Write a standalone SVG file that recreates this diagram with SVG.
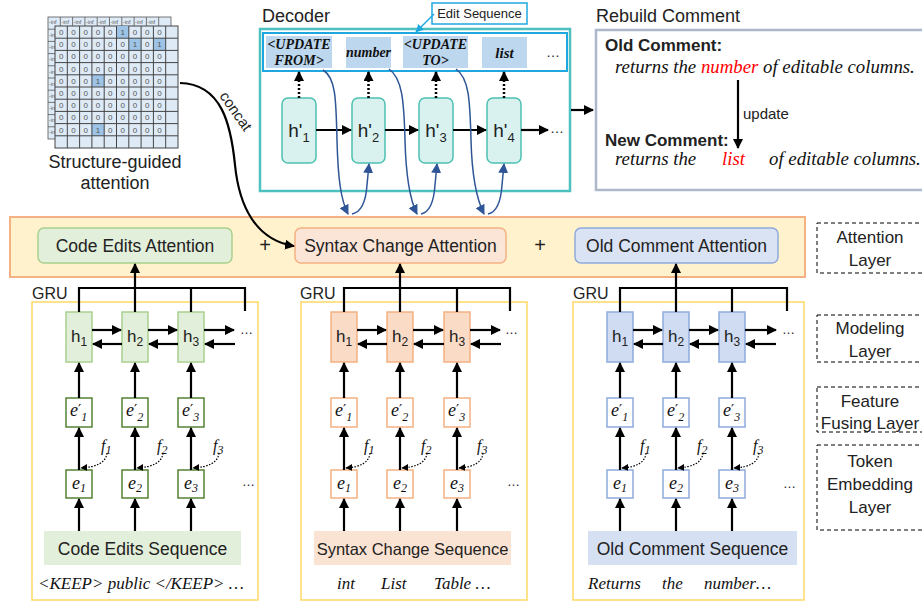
<svg xmlns="http://www.w3.org/2000/svg" width="922" height="607" viewBox="0 0 922 607">
<style>
.s{font-family:"Liberation Sans",Arial,sans-serif;fill:#222}
.t{font-family:"Liberation Serif","Times New Roman",serif;font-style:italic;fill:#111}
.pr{font-family:"DejaVu Sans",sans-serif;font-style:normal;font-size:14px}
.mx{font-family:"Liberation Sans",Arial,sans-serif;font-size:8px;fill:#555;text-anchor:middle}
.mi{font-family:"Liberation Sans",Arial,sans-serif;font-size:5.5px;fill:#555}
.ar{stroke:#000;stroke-width:2.2;fill:none}
.bl{stroke:#2F5597;stroke-width:1.5;fill:none}
.dot{stroke:#000;stroke-width:2.5;fill:none;stroke-dasharray:2 2}
.fd{stroke:#000;stroke-width:1.2;fill:none;stroke-dasharray:1.5 1.5}
.hd{fill:#D9F2F0;stroke:#4DC0B0;stroke-width:1.5}
.lab{fill:none;stroke:#000;stroke-width:1;stroke-dasharray:4 3}
.gh{fill:#E2EFDA;stroke:#A9D18E;stroke-width:1.5}
.ge{fill:#fff;stroke:#548235;stroke-width:1.5}
.oh{fill:#FADBC6;stroke:#F4B183;stroke-width:1.5}
.oe{fill:#fff;stroke:#F4B183;stroke-width:1.5}
.bh{fill:#D0DCF2;stroke:#8FAADC;stroke-width:1.5}
.be{fill:#fff;stroke:#8FAADC;stroke-width:1.5}
.pn{fill:none;stroke:#FFD966;stroke-width:1.5}
.red{fill:#FF0000}
</style>
<defs>
<marker id="ak" viewBox="0 0 10 10" refX="9" refY="5" markerWidth="10" markerHeight="10" markerUnits="userSpaceOnUse" orient="auto"><path d="M0,0 L10,5 L0,10 z" fill="#000"/></marker>
<marker id="ks" viewBox="0 0 10 10" refX="9" refY="5" markerWidth="7" markerHeight="7" markerUnits="userSpaceOnUse" orient="auto"><path d="M0,0 L10,5 L0,10 z" fill="#000"/></marker>
<marker id="ab" viewBox="0 0 10 10" refX="9" refY="5" markerWidth="10" markerHeight="10" markerUnits="userSpaceOnUse" orient="auto"><path d="M0,0 L10,5 L0,10 z" fill="#2F5597"/></marker>
<marker id="ac" viewBox="0 0 10 10" refX="9" refY="5" markerWidth="8" markerHeight="8" markerUnits="userSpaceOnUse" orient="auto"><path d="M0,0 L10,5 L0,10 z" fill="#1FA8E0"/></marker>
</defs>
<rect width="922" height="607" fill="#fff"/>

<!-- Structure-guided attention matrix -->
<g id="matrix">
<rect x="48" y="17" width="123" height="122" fill="#DEEBF7" stroke="#555" stroke-width="0.8"/>
<path d="M48,29.2H171M48,41.4H171M48,53.6H171M48,65.8H171M48,78H171M48,90.2H171M48,102.4H171M48,114.6H171M48,126.8H171M60.3,17V139M72.6,17V139M84.9,17V139M97.2,17V139M109.5,17V139M121.8,17V139M134.1,17V139M146.4,17V139M158.7,17V139" stroke="#555" stroke-width="0.8"/>
<text class="mi" x="49" y="24">-inf</text><text class="mi" x="61.3" y="24">-inf</text><text class="mi" x="73.6" y="24">-inf</text><text class="mi" x="85.9" y="24">-inf</text><text class="mi" x="98.2" y="24">-inf</text><text class="mi" x="110.5" y="24">-inf</text><text class="mi" x="122.8" y="24">-inf</text><text class="mi" x="135.1" y="24">-inf</text><text class="mi" x="147.4" y="24">-inf</text>
<text class="mi" x="49" y="37">-inf</text><text class="mi" x="49" y="49">-inf</text><text class="mi" x="49" y="61">-inf</text><text class="mi" x="49" y="74">-inf</text><text class="mi" x="49" y="86">-inf</text><text class="mi" x="49" y="98">-inf</text><text class="mi" x="49" y="110">-inf</text><text class="mi" x="49" y="122">-inf</text><text class="mi" x="49" y="134">-inf</text>
<rect x="55" y="26" width="123" height="122" fill="#DEEBF7" stroke="#444" stroke-width="1"/>
<rect x="116.5" y="26" width="12.3" height="12.2" fill="#9DC3E6"/>
<rect x="128.8" y="38.2" width="12.3" height="12.2" fill="#9DC3E6"/>
<rect x="153.4" y="38.2" width="12.3" height="12.2" fill="#9DC3E6"/>
<rect x="91.9" y="74.8" width="12.3" height="12.2" fill="#9DC3E6"/>
<rect x="91.9" y="123.6" width="12.3" height="12.2" fill="#9DC3E6"/>
<path d="M55,38.2H178M55,50.4H178M55,62.6H178M55,74.8H178M55,87H178M55,99.2H178M55,111.4H178M55,123.6H178M55,135.8H178M67.3,26V148M79.6,26V148M91.9,26V148M104.2,26V148M116.5,26V148M128.8,26V148M141.1,26V148M153.4,26V148M165.7,26V148" stroke="#444" stroke-width="1"/>
<text class="mx" x="61.15 73.45 85.75 98.05 110.35 122.65 134.95 147.25 159.55" y="35">000001000</text>
<text class="mx" x="61.15 73.45 85.75 98.05 110.35 122.65 134.95 147.25 159.55" y="47.2">000000101</text>
<text class="mx" x="61.15 73.45 85.75 98.05 110.35 122.65 134.95 147.25 159.55" y="59.4">000000000</text>
<text class="mx" x="61.15 73.45 85.75 98.05 110.35 122.65 134.95 147.25 159.55" y="71.6">000000000</text>
<text class="mx" x="61.15 73.45 85.75 98.05 110.35 122.65 134.95 147.25 159.55" y="83.8">000100000</text>
<text class="mx" x="61.15 73.45 85.75 98.05 110.35 122.65 134.95 147.25 159.55" y="96">000000000</text>
<text class="mx" x="61.15 73.45 85.75 98.05 110.35 122.65 134.95 147.25 159.55" y="108.2">000000000</text>
<text class="mx" x="61.15 73.45 85.75 98.05 110.35 122.65 134.95 147.25 159.55" y="120.4">000000000</text>
<text class="mx" x="61.15 73.45 85.75 98.05 110.35 122.65 134.95 147.25 159.55" y="132.6">000100000</text>
<text class="s" x="115" y="168" font-size="18" text-anchor="middle">Structure-guided</text>
<text class="s" x="115" y="189" font-size="18" text-anchor="middle">attention</text>
</g>

<!-- Decoder -->
<g id="decoder">
<text class="s" x="262" y="22" font-size="18">Decoder</text>
<rect x="260" y="29" width="310" height="162" fill="none" stroke="#4DC0C0" stroke-width="2.5"/>
</g>
<g id="edit-sequence">
<rect x="263" y="33" width="304" height="38" fill="#fff" stroke="#1FA8E0" stroke-width="2"/>
<rect x="266" y="36" width="66" height="32" fill="#BDD7EE"/>
<rect x="346" y="37" width="45" height="31" fill="#BDD7EE"/>
<rect x="403" y="36" width="65" height="32" fill="#BDD7EE"/>
<rect x="482" y="37" width="45" height="31" fill="#BDD7EE"/>
<g class="t" font-size="14" font-weight="bold" text-anchor="middle">
<text x="299" y="49">&lt;UPDATE</text><text x="299" y="65">FROM&gt;</text>
<text x="368.5" y="57">number</text>
<text x="435.5" y="49">&lt;UPDATE</text><text x="435.5" y="65">TO&gt;</text>
<text x="504.5" y="58" font-size="15">list</text>
</g>
<text class="s" x="553" y="57" font-size="14" text-anchor="middle">…</text>
</g>
<g id="edit-label">
<rect x="432" y="3" width="95" height="21" fill="#fff" stroke="#1FA8E0" stroke-width="1.5"/>
<text class="s" x="479.5" y="18" font-size="13" text-anchor="middle">Edit Sequence</text>
</g>
<g id="hd1"><rect class="hd" x="282" y="98" width="34" height="65" rx="6"/><text class="s" x="299" y="137" font-size="19" text-anchor="middle">h'<tspan font-size="13" dy="5">1</tspan></text></g>
<g id="hd2"><rect class="hd" x="352" y="98" width="33" height="65" rx="6"/><text class="s" x="368.5" y="137" font-size="19" text-anchor="middle">h'<tspan font-size="13" dy="5">2</tspan></text></g>
<g id="hd3"><rect class="hd" x="419" y="98" width="34" height="65" rx="6"/><text class="s" x="436" y="137" font-size="19" text-anchor="middle">h'<tspan font-size="13" dy="5">3</tspan></text></g>
<g id="hd4"><rect class="hd" x="487" y="98" width="34" height="65" rx="6"/><text class="s" x="504" y="137" font-size="19" text-anchor="middle">h'<tspan font-size="13" dy="5">4</tspan></text></g>
<text class="s" x="550" y="133" font-size="14">…</text>

<!-- Rebuild comment -->
<g id="rebuild">
<text class="s" x="596" y="22" font-size="18">Rebuild Comment</text>
<rect x="596" y="30" width="340" height="160" fill="#fff" stroke="#ADB9CA" stroke-width="2.5"/>
<text class="s" x="605" y="51" font-size="17" font-weight="bold" fill="#000">Old Comment:</text>
<text class="t" x="615" y="73" font-size="18.8">returns the <tspan class="red">number</tspan> of editable columns.</text>
<text class="s" x="743" y="119" font-size="15">update</text>
<text class="s" x="605" y="146" font-size="17" font-weight="bold" fill="#000">New Comment:</text>
<text class="t" x="615" y="165" font-size="18.8">returns the</text>
<text class="t red" x="722" y="165" font-size="18.8">list</text>
<text class="t" x="769" y="165" font-size="18.8">of editable columns.</text>
</g>

<!-- Attention layer -->
<g id="attention-layer">
<rect x="10" y="217" width="795" height="60" fill="#FFF2CC" stroke="#F4B183" stroke-width="2"/>
<text class="s" x="265" y="252" font-size="20" text-anchor="middle">+</text>
<text class="s" x="540" y="252" font-size="20" text-anchor="middle">+</text>
</g>
<g id="code-att"><rect x="38" y="228" width="194" height="35" rx="6" fill="#E2EFDA" stroke="#A9D18E" stroke-width="1.5"/><text class="s" x="135" y="252" font-size="17.5" text-anchor="middle">Code Edits  Attention</text></g>
<g id="syntax-att"><rect x="295" y="228" width="211" height="35" rx="6" fill="#FBE5D6" stroke="#F4B183" stroke-width="1.5"/><text class="s" x="400.5" y="252" font-size="17.5" text-anchor="middle">Syntax Change Attention</text></g>
<g id="comment-att"><rect x="575" y="228" width="203" height="35" rx="6" fill="#DAE3F3" stroke="#8FAADC" stroke-width="1.5"/><text class="s" x="676.5" y="252" font-size="17.5" text-anchor="middle">Old Comment Attention</text></g>

<!-- Layer labels -->
<g id="label-attention"><rect class="lab" x="817" y="223" width="115" height="50"/><text class="s" x="870" y="243" font-size="17" text-anchor="middle">Attention</text><text class="s" x="870" y="266" font-size="17" text-anchor="middle">Layer</text></g>
<g id="label-modeling"><rect class="lab" x="817" y="315" width="115" height="47"/><text class="s" x="870" y="334" font-size="17" text-anchor="middle">Modeling</text><text class="s" x="870" y="357" font-size="17" text-anchor="middle">Layer</text></g>
<g id="label-feature"><rect class="lab" x="817" y="387" width="115" height="45"/><text class="s" x="870" y="407" font-size="17" text-anchor="middle">Feature</text><text class="s" x="870" y="429" font-size="17" text-anchor="middle">Fusing Layer</text></g>
<g id="label-token"><rect class="lab" x="817" y="445" width="115" height="85"/><text class="s" x="870" y="467" font-size="17" text-anchor="middle">Token</text><text class="s" x="870" y="490" font-size="17" text-anchor="middle">Embedding</text><text class="s" x="870" y="513" font-size="17" text-anchor="middle">Layer</text></g>

<!-- Panels -->
<g id="panel-code"><rect class="pn" x="32" y="302" width="226" height="298"/><text class="s" x="32" y="299" font-size="16">GRU</text></g>
<g id="panel-syntax"><rect class="pn" x="301" y="302" width="226" height="298"/><text class="s" x="300" y="299" font-size="16">GRU</text></g>
<g id="panel-comment"><rect class="pn" x="573" y="302" width="231" height="298"/><text class="s" x="573" y="299" font-size="16">GRU</text></g>

<!-- Code edits column nodes -->
<g id="c-h1"><rect class="gh" x="66" y="312" width="26" height="50"/><text class="s" x="79" y="342" font-size="17" text-anchor="middle">h<tspan font-size="12" dy="4">1</tspan></text></g>
<g id="c-h2"><rect class="gh" x="122" y="312" width="26" height="50"/><text class="s" x="135" y="342" font-size="17" text-anchor="middle">h<tspan font-size="12" dy="4">2</tspan></text></g>
<g id="c-h3"><rect class="gh" x="178" y="312" width="26" height="50"/><text class="s" x="191" y="342" font-size="17" text-anchor="middle">h<tspan font-size="12" dy="4">3</tspan></text></g>
<g id="c-ep1"><rect class="ge" x="66" y="398" width="26" height="29"/><text class="t" x="70" y="416" font-size="18">e<tspan class="pr" dy="-2">′</tspan><tspan font-size="12" dy="7">1</tspan></text></g>
<g id="c-ep2"><rect class="ge" x="122" y="398" width="26" height="29"/><text class="t" x="126" y="416" font-size="18">e<tspan class="pr" dy="-2">′</tspan><tspan font-size="12" dy="7">2</tspan></text></g>
<g id="c-ep3"><rect class="ge" x="178" y="398" width="26" height="29"/><text class="t" x="182" y="416" font-size="18">e<tspan class="pr" dy="-2">′</tspan><tspan font-size="12" dy="7">3</tspan></text></g>
<g id="c-e1"><rect class="ge" x="66" y="470" width="26" height="28"/><text class="t" x="79" y="489" font-size="18" text-anchor="middle">e<tspan font-size="12" dy="3">1</tspan></text></g>
<g id="c-e2"><rect class="ge" x="122" y="470" width="26" height="28"/><text class="t" x="135" y="489" font-size="18" text-anchor="middle">e<tspan font-size="12" dy="3">2</tspan></text></g>
<g id="c-e3"><rect class="ge" x="178" y="470" width="26" height="28"/><text class="t" x="191" y="489" font-size="18" text-anchor="middle">e<tspan font-size="12" dy="3">3</tspan></text></g>
<g id="c-seq"><rect x="44" y="531" width="197" height="34" fill="#E2EFDA"/><text class="s" x="142.5" y="555" font-size="17.5" text-anchor="middle">Code Edits Sequence</text></g>
<text class="t" x="38" y="589" font-size="17">&lt;KEEP&gt; public &lt;/KEEP&gt; …</text>
<g class="t" font-size="16"><text x="101" y="451">f<tspan font-size="12" dy="3">1</tspan></text><text x="157" y="451">f<tspan font-size="12" dy="3">2</tspan></text><text x="213" y="451">f<tspan font-size="12" dy="3">3</tspan></text></g>
<text class="s" x="240" y="334" font-size="13">…</text>
<text class="s" x="242" y="486" font-size="13">…</text>

<!-- Syntax column nodes -->
<g id="s-h1"><rect class="oh" x="331" y="312" width="26" height="50"/><text class="s" x="344" y="342" font-size="17" text-anchor="middle">h<tspan font-size="12" dy="4">1</tspan></text></g>
<g id="s-h2"><rect class="oh" x="387" y="312" width="26" height="50"/><text class="s" x="400" y="342" font-size="17" text-anchor="middle">h<tspan font-size="12" dy="4">2</tspan></text></g>
<g id="s-h3"><rect class="oh" x="444" y="312" width="26" height="50"/><text class="s" x="457" y="342" font-size="17" text-anchor="middle">h<tspan font-size="12" dy="4">3</tspan></text></g>
<g id="s-ep1"><rect class="oe" x="331" y="398" width="26" height="29"/><text class="t" x="335" y="416" font-size="18">e<tspan class="pr" dy="-2">′</tspan><tspan font-size="12" dy="7">1</tspan></text></g>
<g id="s-ep2"><rect class="oe" x="387" y="398" width="26" height="29"/><text class="t" x="391" y="416" font-size="18">e<tspan class="pr" dy="-2">′</tspan><tspan font-size="12" dy="7">2</tspan></text></g>
<g id="s-ep3"><rect class="oe" x="444" y="398" width="26" height="29"/><text class="t" x="448" y="416" font-size="18">e<tspan class="pr" dy="-2">′</tspan><tspan font-size="12" dy="7">3</tspan></text></g>
<g id="s-e1"><rect class="oe" x="331" y="470" width="26" height="28"/><text class="t" x="344" y="489" font-size="18" text-anchor="middle">e<tspan font-size="12" dy="3">1</tspan></text></g>
<g id="s-e2"><rect class="oe" x="387" y="470" width="26" height="28"/><text class="t" x="400" y="489" font-size="18" text-anchor="middle">e<tspan font-size="12" dy="3">2</tspan></text></g>
<g id="s-e3"><rect class="oe" x="444" y="470" width="26" height="28"/><text class="t" x="457" y="489" font-size="18" text-anchor="middle">e<tspan font-size="12" dy="3">3</tspan></text></g>
<g id="s-seq"><rect x="314" y="531" width="197" height="34" fill="#FBE3D3"/><text class="s" x="412.5" y="555" font-size="16.5" text-anchor="middle">Syntax Change Sequence</text></g>
<text class="t" x="337" y="589" font-size="17">int</text><text class="t" x="381" y="589" font-size="17">List</text><text class="t" x="434" y="589" font-size="17">Table …</text>
<g class="t" font-size="16"><text x="364" y="451">f<tspan font-size="12" dy="3">1</tspan></text><text x="421" y="451">f<tspan font-size="12" dy="3">2</tspan></text><text x="477" y="451">f<tspan font-size="12" dy="3">3</tspan></text></g>
<text class="s" x="505" y="334" font-size="13">…</text>
<text class="s" x="507" y="486" font-size="13">…</text>

<!-- Comment column nodes -->
<g id="o-h1"><rect class="bh" x="607" y="312" width="26" height="50"/><text class="s" x="620" y="342" font-size="17" text-anchor="middle">h<tspan font-size="12" dy="4">1</tspan></text></g>
<g id="o-h2"><rect class="bh" x="663" y="312" width="26" height="50"/><text class="s" x="676" y="342" font-size="17" text-anchor="middle">h<tspan font-size="12" dy="4">2</tspan></text></g>
<g id="o-h3"><rect class="bh" x="719" y="312" width="26" height="50"/><text class="s" x="732" y="342" font-size="17" text-anchor="middle">h<tspan font-size="12" dy="4">3</tspan></text></g>
<g id="o-ep1"><rect class="be" x="607" y="398" width="26" height="29"/><text class="t" x="611" y="416" font-size="18">e<tspan class="pr" dy="-2">′</tspan><tspan font-size="12" dy="7">1</tspan></text></g>
<g id="o-ep2"><rect class="be" x="663" y="398" width="26" height="29"/><text class="t" x="667" y="416" font-size="18">e<tspan class="pr" dy="-2">′</tspan><tspan font-size="12" dy="7">2</tspan></text></g>
<g id="o-ep3"><rect class="be" x="719" y="398" width="26" height="29"/><text class="t" x="723" y="416" font-size="18">e<tspan class="pr" dy="-2">′</tspan><tspan font-size="12" dy="7">3</tspan></text></g>
<g id="o-e1"><rect class="be" x="607" y="470" width="26" height="28"/><text class="t" x="620" y="489" font-size="18" text-anchor="middle">e<tspan font-size="12" dy="3">1</tspan></text></g>
<g id="o-e2"><rect class="be" x="663" y="470" width="26" height="28"/><text class="t" x="676" y="489" font-size="18" text-anchor="middle">e<tspan font-size="12" dy="3">2</tspan></text></g>
<g id="o-e3"><rect class="be" x="719" y="470" width="26" height="28"/><text class="t" x="732" y="489" font-size="18" text-anchor="middle">e<tspan font-size="12" dy="3">3</tspan></text></g>
<g id="o-seq"><rect x="588" y="531" width="209" height="34" fill="#D6E0F3"/><text class="s" x="692.5" y="555" font-size="17.5" text-anchor="middle">Old Comment Sequence</text></g>
<text class="t" x="588" y="589" font-size="17">Returns</text><text class="t" x="662" y="589" font-size="17">the</text><text class="t" x="704" y="589" font-size="17">number…</text>
<g class="t" font-size="16"><text x="640" y="451">f<tspan font-size="12" dy="3">1</tspan></text><text x="697" y="451">f<tspan font-size="12" dy="3">2</tspan></text><text x="753" y="451">f<tspan font-size="12" dy="3">3</tspan></text></g>
<text class="s" x="782" y="334" font-size="13">…</text>
<text class="s" x="783" y="488" font-size="13">…</text>

<!-- Connectors -->
<g id="connectors">
<path d="M180,83 C222,84 231,125 235,165 C239,205 255,240 294,246" stroke="#000" stroke-width="2.2" fill="none" marker-end="url(#ak)"/>
<text class="s" x="0" y="0" font-size="15" transform="translate(219,96) rotate(55)">concat</text>
<path d="M434,14 L416,32" stroke="#1FA8E0" stroke-width="1.5" fill="none" marker-end="url(#ac)"/>
<path class="dot" d="M299,98V72" marker-end="url(#ak)"/>
<path class="dot" d="M368.5,98V72" marker-end="url(#ak)"/>
<path class="dot" d="M436,98V72" marker-end="url(#ak)"/>
<path class="dot" d="M504,98V72" marker-end="url(#ak)"/>
<path class="ar" d="M316,130H351" marker-end="url(#ak)"/>
<path class="ar" d="M385,130H418" marker-end="url(#ak)"/>
<path class="ar" d="M453,130H486" marker-end="url(#ak)"/>
<path class="ar" d="M521,130H548" marker-end="url(#ak)"/>
<path class="ar" d="M571,110H593" marker-end="url(#ak)"/>
<path class="ar" d="M738,80V148" marker-end="url(#ak)"/>
<path class="bl" d="M323,70 C336,78 336,100 337,140 C338,180 341,200 348,214" marker-end="url(#ab)"/>
<path class="bl" d="M352,214 C362,212 366,200 367,185 L369,164" marker-end="url(#ab)"/>
<path class="bl" d="M389,69 C402,78 404,100 405,140 C406,180 410,200 417,214" marker-end="url(#ab)"/>
<path class="bl" d="M421,214 C431,212 434,200 435,185 L437,164" marker-end="url(#ab)"/>
<path class="bl" d="M456,69 C469,78 470,100 471,140 C472,180 477,200 484,214" marker-end="url(#ab)"/>
<path class="bl" d="M488,214 C498,212 501,200 502,185 L504,164" marker-end="url(#ab)"/>
<path class="ar" d="M79,312V288H245V311M135,288V312M191,288V312"/>
<path class="ar" d="M135,289V264" marker-end="url(#ak)"/>
<path class="ar" d="M92,330H121" marker-end="url(#ak)"/>
<path class="ar" d="M148,330H177" marker-end="url(#ak)"/>
<path class="ar" d="M204,330H234" marker-end="url(#ak)"/>
<path class="ar" d="M122,344H93" marker-end="url(#ak)"/>
<path class="ar" d="M178,344H149" marker-end="url(#ak)"/>
<path class="ar" d="M235,344H205" marker-end="url(#ak)"/>
<path class="ar" d="M79,398V363" marker-end="url(#ak)"/>
<path class="ar" d="M135,398V363" marker-end="url(#ak)"/>
<path class="ar" d="M191,398V363" marker-end="url(#ak)"/>
<path class="ar" d="M79,470V428" marker-end="url(#ak)"/>
<path class="ar" d="M135,470V428" marker-end="url(#ak)"/>
<path class="ar" d="M191,470V428" marker-end="url(#ak)"/>
<path class="ar" d="M79,531V499" marker-end="url(#ak)"/>
<path class="ar" d="M135,531V499" marker-end="url(#ak)"/>
<path class="ar" d="M191,531V499" marker-end="url(#ak)"/>
<path class="fd" d="M107,453 C106,463 96,467 81,468" marker-end="url(#ks)"/>
<path class="fd" d="M163,453 C162,463 152,467 137,468" marker-end="url(#ks)"/>
<path class="fd" d="M219,453 C218,463 208,467 193,468" marker-end="url(#ks)"/>
<path class="ar" d="M344,312V288H510V311M400,288V312M457,288V312"/>
<path class="ar" d="M400,289V264" marker-end="url(#ak)"/>
<path class="ar" d="M357,330H386" marker-end="url(#ak)"/>
<path class="ar" d="M413,330H443" marker-end="url(#ak)"/>
<path class="ar" d="M470,330H500" marker-end="url(#ak)"/>
<path class="ar" d="M387,344H358" marker-end="url(#ak)"/>
<path class="ar" d="M444,344H414" marker-end="url(#ak)"/>
<path class="ar" d="M501,344H471" marker-end="url(#ak)"/>
<path class="ar" d="M344,398V363" marker-end="url(#ak)"/>
<path class="ar" d="M400,398V363" marker-end="url(#ak)"/>
<path class="ar" d="M457,398V363" marker-end="url(#ak)"/>
<path class="ar" d="M344,470V428" marker-end="url(#ak)"/>
<path class="ar" d="M400,470V428" marker-end="url(#ak)"/>
<path class="ar" d="M457,470V428" marker-end="url(#ak)"/>
<path class="ar" d="M344,531V499" marker-end="url(#ak)"/>
<path class="ar" d="M400,531V499" marker-end="url(#ak)"/>
<path class="ar" d="M457,531V499" marker-end="url(#ak)"/>
<path class="fd" d="M370,453 C369,463 360,467 346,468" marker-end="url(#ks)"/>
<path class="fd" d="M427,453 C426,463 416,467 402,468" marker-end="url(#ks)"/>
<path class="fd" d="M483,453 C482,463 473,467 459,468" marker-end="url(#ks)"/>
<path class="ar" d="M620,312V288H787V311M676,288V312M732,288V312"/>
<path class="ar" d="M676,289V264" marker-end="url(#ak)"/>
<path class="ar" d="M633,330H662" marker-end="url(#ak)"/>
<path class="ar" d="M689,330H718" marker-end="url(#ak)"/>
<path class="ar" d="M745,330H776" marker-end="url(#ak)"/>
<path class="ar" d="M663,344H634" marker-end="url(#ak)"/>
<path class="ar" d="M719,344H690" marker-end="url(#ak)"/>
<path class="ar" d="M776,344H746" marker-end="url(#ak)"/>
<path class="ar" d="M620,398V363" marker-end="url(#ak)"/>
<path class="ar" d="M676,398V363" marker-end="url(#ak)"/>
<path class="ar" d="M732,398V363" marker-end="url(#ak)"/>
<path class="ar" d="M620,470V428" marker-end="url(#ak)"/>
<path class="ar" d="M676,470V428" marker-end="url(#ak)"/>
<path class="ar" d="M732,470V428" marker-end="url(#ak)"/>
<path class="ar" d="M620,531V499" marker-end="url(#ak)"/>
<path class="ar" d="M676,531V499" marker-end="url(#ak)"/>
<path class="ar" d="M732,531V499" marker-end="url(#ak)"/>
<path class="fd" d="M646,453 C645,463 636,467 622,468" marker-end="url(#ks)"/>
<path class="fd" d="M703,453 C702,463 692,467 678,468" marker-end="url(#ks)"/>
<path class="fd" d="M759,453 C758,463 749,467 734,468" marker-end="url(#ks)"/>
</g>
</svg>
